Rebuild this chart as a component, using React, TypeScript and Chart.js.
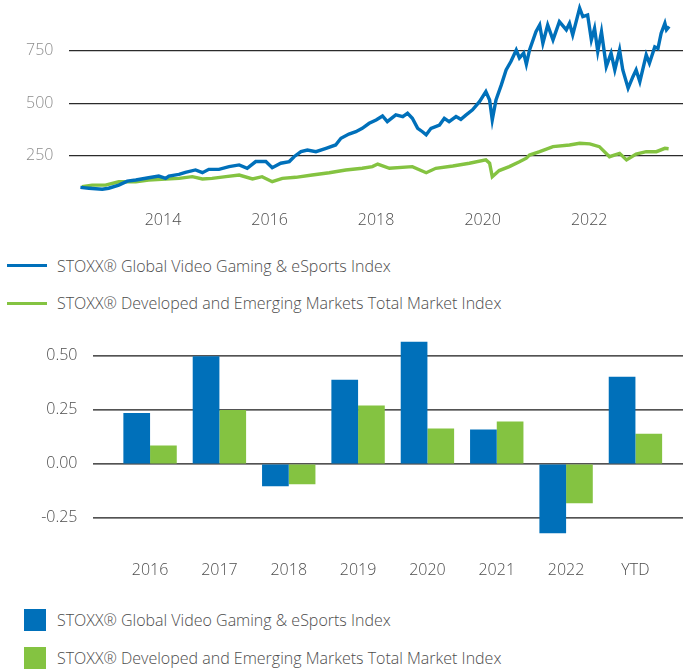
import React, { useEffect, useRef } from "react";
import { Chart, registerables } from "chart.js";

Chart.register(...registerables);

// ---------- data ----------
const seriesNames = [
  "STOXX® Global Video Gaming & eSports Index",
  "STOXX® Developed and Emerging Markets Total Market Index",
];

const gamingDates = [
  2012.45, 2012.61, 2012.86, 2012.98, 2013.17, 2013.33, 2013.49, 2013.73, 2013.92, 2014.05,
  2014.11, 2014.3, 2014.42, 2014.61, 2014.74, 2014.86, 2015.05, 2015.24, 2015.43, 2015.58,
  2015.74, 2015.93, 2016.05, 2016.21, 2016.37, 2016.46, 2016.59, 2016.71, 2016.87, 2017.06,
  2017.24, 2017.34, 2017.49, 2017.62, 2017.74, 2017.87, 2018.0, 2018.12, 2018.21, 2018.37,
  2018.5, 2018.59, 2018.68, 2018.78, 2018.87, 2018.94, 2019.03, 2019.19, 2019.28, 2019.37,
  2019.5, 2019.59, 2019.69, 2019.81, 2019.94, 2020.06, 2020.13, 2020.18, 2020.25, 2020.35,
  2020.44, 2020.53, 2020.63, 2020.69, 2020.77, 2020.82, 2020.88, 2021.0, 2021.07, 2021.13,
  2021.22, 2021.32, 2021.44, 2021.57, 2021.63, 2021.69, 2021.82, 2021.88, 2021.97, 2022.04,
  2022.1, 2022.16, 2022.23, 2022.32, 2022.41, 2022.48, 2022.57, 2022.63, 2022.73, 2022.82,
  2022.88, 2022.95, 2023.07, 2023.13, 2023.23, 2023.29, 2023.35, 2023.42, 2023.45, 2023.5,
];
const gamingValues = [
  99, 95, 90, 95, 110, 129, 134, 145, 153, 142,
  153, 161, 171, 182, 169, 185, 185, 198, 206, 190,
  222, 222, 193, 214, 222, 245, 269, 277, 269, 285,
  301, 333, 353, 364, 380, 404, 420, 439, 412, 444,
  436, 452, 428, 380, 364, 349, 380, 396, 428, 412,
  436, 423, 444, 468, 507, 555, 515, 420, 515, 587,
  658, 698, 753, 715, 738, 685, 753, 840, 872, 785,
  872, 801, 888, 849, 880, 825, 952, 912, 920, 801,
  856, 746, 840, 674, 738, 658, 753, 658, 571, 626,
  658, 602, 730, 690, 768, 760, 833, 880, 849, 865,
];

const marketDates = [
  2012.48, 2012.67, 2012.92, 2013.17, 2013.49, 2013.73, 2014.05, 2014.3, 2014.55, 2014.74,
  2014.92, 2015.18, 2015.43, 2015.68, 2015.86, 2016.05, 2016.24, 2016.49, 2016.8, 2017.12,
  2017.43, 2017.74, 2017.93, 2018.03, 2018.25, 2018.68, 2018.94, 2019.12, 2019.44, 2019.75,
  2020.06, 2020.13, 2020.18, 2020.31, 2020.5, 2020.69, 2020.82, 2020.88, 2021.07, 2021.32,
  2021.63, 2021.82, 2022.01, 2022.19, 2022.38, 2022.57, 2022.7, 2022.88, 2023.07, 2023.26,
  2023.42, 2023.49,
];
const marketValues = [
  102, 110, 110, 126, 126, 134, 139, 142, 150, 139,
  142, 150, 158, 139, 150, 126, 142, 147, 158, 169,
  182, 190, 198, 210, 190, 198, 169, 190, 201, 214,
  230, 214, 150, 179, 198, 221, 238, 253, 269, 293,
  301, 309, 306, 293, 245, 261, 230, 258, 269, 269,
  285, 283,
];

const lineXTicks = [2014, 2016, 2018, 2020, 2022];
const lineYTicks = [250, 500, 750];

const barCategories = ["2016", "2017", "2018", "2019", "2020", "2021", "2022", "YTD"];
const gamingReturns = [0.236, 0.498, -0.103, 0.39, 0.566, 0.159, -0.321, 0.404];
const marketReturns = [0.085, 0.25, -0.094, 0.27, 0.164, 0.196, -0.182, 0.14];
const barYTicks = [-0.25, 0, 0.25, 0.5];

// ---------- styles ----------
const BLUE = "#0070BA";
const GREEN = "#84C341";
const FONT = "'Open Sans', sans-serif";
const TEXT = "#4d4d4d";
const NONE = "rgba(0,0,0,0)";

const LineChart: React.FC = () => {
  const ref = useRef<HTMLCanvasElement>(null);
  useEffect(() => {
    if (!ref.current) return;
    const chart = new Chart(ref.current, {
      type: "line",
      data: {
        datasets: [
          {
            label: seriesNames[0],
            data: gamingDates.map((d, i) => ({ x: d, y: gamingValues[i] })),
            borderColor: BLUE,
            borderWidth: 3.4,
            pointRadius: 0,
            tension: 0,
          },
          {
            label: seriesNames[1],
            data: marketDates.map((d, i) => ({ x: d, y: marketValues[i] })),
            borderColor: GREEN,
            borderWidth: 3.4,
            pointRadius: 0,
            tension: 0,
          },
        ],
      },
      options: {
        animation: false,
        responsive: false,
        layout: { padding: 0 },
        plugins: { legend: { display: false }, tooltip: { enabled: false } },
        scales: {
          x: {
            type: "linear",
            min: 2012.23,
            max: 2023.76,
            afterBuildTicks: (s: any) => {
              s.ticks = lineXTicks.map((v) => ({ value: v }));
            },
            afterFit: (s: any) => {
              s.height = 26.8;
              s.paddingLeft = 0;
              s.paddingRight = 0;
            },
            grid: { display: false, drawTicks: false },
            border: { display: false },
            ticks: {
              font: { family: FONT, size: 16, weight: "300" as any },
              color: TEXT,
              padding: 3,
              maxRotation: 0,
              callback: (v: any) => String(v),
            },
          },
          y: {
            min: 0,
            max: 991,
            afterBuildTicks: (s: any) => {
              s.ticks = lineYTicks.map((v) => ({ value: v }));
            },
            afterFit: (s: any) => {
              s.width = 68.7;
              s.paddingTop = 0;
              s.paddingBottom = 0;
            },
            grid: {
              color: "#2b2b2b",
              lineWidth: 1.2,
              drawTicks: true,
              tickLength: 15.3,
              tickColor: NONE,
            },
            border: { display: false },
            ticks: {
              font: { family: FONT, size: 16, weight: "300" as any },
              color: "#8c8c8c",
              padding: 0,
              callback: (v: any) => String(v),
            },
          },
        },
      },
    });
    return () => chart.destroy();
  }, []);
  return <canvas ref={ref} width={683} height={235} style={{ position: "absolute", left: 0, top: 0 }} />;
};

const extendedGrid = {
  id: "extendedGrid",
  beforeDatasetsDraw(chart: any) {
    const y = chart.scales.y;
    const ctx = chart.ctx;
    ctx.save();
    ctx.strokeStyle = "#1a1a1a";
    ctx.lineWidth = 1.3;
    barYTicks.forEach((v) => {
      const py = y.getPixelForValue(v);
      ctx.beginPath();
      ctx.moveTo(93, py);
      ctx.lineTo(chart.width, py);
      ctx.stroke();
    });
    ctx.restore();
  },
};

const BarChart: React.FC = () => {
  const ref = useRef<HTMLCanvasElement>(null);
  useEffect(() => {
    if (!ref.current) return;
    const chart = new Chart(ref.current, {
      type: "bar",
      data: {
        labels: barCategories,
        datasets: [
          {
            label: seriesNames[0],
            data: gamingReturns,
            backgroundColor: BLUE,
            borderWidth: 0,
            categoryPercentage: 0.77,
            barPercentage: 1,
          },
          {
            label: seriesNames[1],
            data: marketReturns,
            backgroundColor: GREEN,
            borderWidth: 0,
            categoryPercentage: 0.77,
            barPercentage: 1,
          },
        ],
      },
      plugins: [extendedGrid],
      options: {
        animation: false,
        responsive: false,
        layout: { padding: { left: 0, top: 0, bottom: 0, right: 12.9 } },
        plugins: { legend: { display: false }, tooltip: { enabled: false } },
        scales: {
          x: {
            grid: { display: false, drawTicks: false },
            border: { display: false },
            afterFit: (s: any) => {
              s.height = 49.7;
              s.paddingLeft = 0;
              s.paddingRight = 0;
            },
            ticks: {
              font: { family: FONT, size: 16, weight: "300" as any },
              color: TEXT,
              padding: 10.7,
              maxRotation: 0,
            },
          },
          y: {
            min: -0.4,
            max: 0.62,
            afterBuildTicks: (s: any) => {
              s.ticks = barYTicks.map((v) => ({ value: v }));
            },
            afterFit: (s: any) => {
              s.width = 115.4;
              s.paddingTop = 0;
              s.paddingBottom = 0;
            },
            grid: {
              display: true,
              color: NONE,
              drawTicks: true,
              tickLength: 37.9,
              tickColor: NONE,
            },
            border: { display: false },
            ticks: {
              font: { family: FONT, size: 16, weight: "300" as any },
              color: TEXT,
              padding: 0,
              callback: (v: any) => Number(v).toFixed(2),
            },
          },
        },
      },
    });
    return () => chart.destroy();
  }, []);
  return <canvas ref={ref} width={683} height={270} style={{ position: "absolute", left: 0, top: 330 }} />;
};

const textStyle: React.CSSProperties = {
  position: "absolute",
  left: 57,
  fontFamily: FONT,
  fontWeight: 300,
  fontSize: 16,
  lineHeight: "20px",
  color: TEXT,
  whiteSpace: "nowrap",
};

export default function App() {
  useEffect(() => {
    document.body.style.margin = "0";
    document.body.style.overflow = "hidden";
  }, []);
  const colors = [BLUE, GREEN];
  const lineCenters = [265.7, 303.3];
  const boxCenters = [620, 658];
  return (
    <div style={{ position: "relative", width: 683, height: 669, background: "#fff", overflow: "hidden" }}>
      <LineChart />
      {seriesNames.map((name, i) => (
        <React.Fragment key={"l" + i}>
          <div
            style={{
              position: "absolute",
              left: 6.7,
              width: 40,
              top: lineCenters[i] - 1.5,
              height: 3,
              background: colors[i],
            }}
          />
          <div style={{ ...textStyle, top: lineCenters[i] - 10 }}>{name}</div>
        </React.Fragment>
      ))}
      <BarChart />
      {seriesNames.map((name, i) => (
        <React.Fragment key={"b" + i}>
          <div
            style={{
              position: "absolute",
              left: 24,
              width: 22,
              top: boxCenters[i] - 11,
              height: 22,
              background: colors[i],
            }}
          />
          <div style={{ ...textStyle, top: boxCenters[i] - 10 }}>{name}</div>
        </React.Fragment>
      ))}
    </div>
  );
}
